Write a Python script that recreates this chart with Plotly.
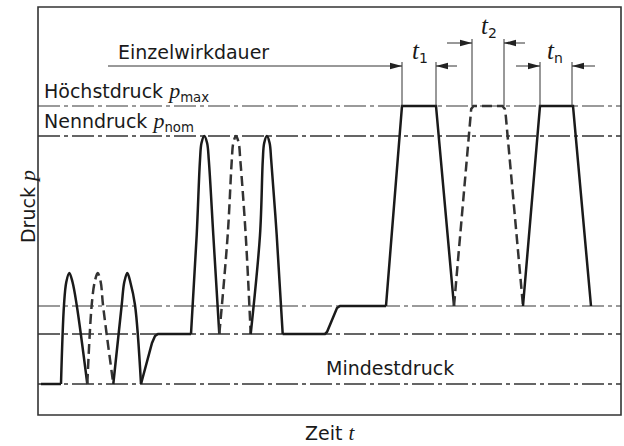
import plotly.graph_objects as go

# ---------------- data (time t, pressure p in arbitrary diagram units) ----------------
T_MAX = 583
P_MAX_AX = 408

# pressure levels
p_min = 31     # Mindestdruck
p_low = 81
p_mid = 109
p_nom = 279    # Nenndruck
p_max = 309    # Höchstdruck
level_values = [p_max, p_nom, p_mid, p_low, p_min]
level_colors = ["#7a7a7a", "#333333", "#7a7a7a", "#333333", "#333333"]

# solid curve pieces
start_t = [3, 23]
start_p = [31, 31]

small_p = [31, 110, 133, 142, 133, 110, 31]
small1_t = [23, 26, 28.3, 31.3, 34.5, 38.7, 49.3]
small2_t = [49.3, 53.7, 56.7, 59.7, 62.7, 65, 75.3]      # dashed
small3_t = [75.3, 83.7, 86.3, 89.3, 92.3, 97, 103]

step1_t = [103, 114, 117, 120, 153]
step1_p = [31, 72, 79, 81, 81]

large_p = [81, 180, 255, 272, 279, 272, 255, 180, 81]
large1_t = [153, 158.7, 162, 163.5, 166.3, 169.1, 170.8, 175.3, 181.3]
large2_t = [181.3, 189.7, 193.8, 195.3, 198, 200.7, 202.3, 207.7, 212.7]   # dashed
large3_t = [212.7, 222, 224.8, 226.2, 228.9, 231.6, 233.2, 238.7, 244.7]

step2_t = [244.7, 287, 289, 292, 297, 299, 302, 348]
step2_p = [81, 81, 83, 90, 103, 107, 109, 109]

trap_p = [109, 309, 309, 109]
trap1_t = [348, 364, 398, 416]
trap3_t = [485, 502, 535, 553]
# dashed trapezoid with slightly rounded top corners
trap2_t = [416, 432.2, 433.2, 435.5, 464.5, 466.8, 467.8, 485]
trap2_p = [109, 299, 306, 309, 309, 306, 299, 109]

# dimension lines
ext_t = [364, 398, 434, 466, 502, 534]
ext_top = [353, 353, 376, 376, 353, 353]
arrow_tail = [70, 419, 409, 487, 478, 557]
arrow_tip = [364, 398, 434, 466, 502, 534]
arrow_p = [349, 349, 372, 372, 349, 349]

SANS = "DejaVu Sans"
SERIF = "Liberation Serif"
TXT = "#1a1a1a"
FS = 19

fig = go.Figure()

# dash-dot reference lines
for lv, col in zip(level_values, level_colors):
    fig.add_trace(go.Scatter(x=[0, T_MAX], y=[lv, lv], mode="lines",
                             line=dict(color=col, width=1.3, dash="22px,4px,4px,4px"),
                             hoverinfo="skip", showlegend=False))

def curve(t, p, dashed=False, spline=False, smoothing=1.0):
    fig.add_trace(go.Scatter(
        x=t, y=p, mode="lines",
        line=dict(color="#333333" if dashed else "#1a1a1a", width=2.5,
                  dash="10px,5px" if dashed else "solid",
                  shape="spline" if spline else "linear", smoothing=smoothing),
        hoverinfo="skip", showlegend=False))

curve(start_t, start_p)
curve(small1_t, small_p, spline=True)
curve(small2_t, small_p, dashed=True, spline=True)
curve(small3_t, small_p, spline=True)
curve(step1_t, step1_p)
curve(large1_t, large_p, spline=True)
curve(large2_t, large_p, dashed=True, spline=True)
curve(large3_t, large_p, spline=True)
curve(step2_t, step2_p)
curve(trap1_t, trap_p)
curve(trap2_t, trap2_p, dashed=True)
curve(trap3_t, trap_p)

# extension lines
for t, top in zip(ext_t, ext_top):
    fig.add_trace(go.Scatter(x=[t, t], y=[p_max, top], mode="lines",
                             line=dict(color="#333333", width=1),
                             hoverinfo="skip", showlegend=False))

# arrows (line + filled head)
shapes = []
for tail, tip, pp in zip(arrow_tail, arrow_tip, arrow_p):
    fig.add_trace(go.Scatter(x=[tail, tip], y=[pp, pp], mode="lines",
                             line=dict(color="#333333", width=1),
                             hoverinfo="skip", showlegend=False))
    d = 1 if tip > tail else -1
    L, H = 12, 3.3
    path = f"M {tip},{pp} L {tip - d*L},{pp + H} L {tip - d*L},{pp - H} Z"
    shapes.append(dict(type="path", path=path, xref="x", yref="y",
                       fillcolor="#222222", line=dict(width=0)))

# frame
shapes.append(dict(type="rect", xref="paper", yref="paper", x0=0, x1=1, y0=0, y1=1,
                   line=dict(color="#333333", width=1.6)))

def sym(s, size):
    return (f"<span style='font-family:{SERIF};font-style:italic;"
            f"font-size:{size}px'>{s}</span>")

annotations = [
    dict(x=79, y=363, text="Einzelwirkdauer", xanchor="left", yanchor="middle",
         font=dict(size=FS)),
    dict(x=5, y=324, text="Höchstdruck " + sym("p", 22) + "<sub>max</sub>",
         xanchor="left", yanchor="middle", font=dict(size=FS)),
    dict(x=5, y=294, text="Nenndruck " + sym("p", 22) + "<sub>nom</sub>",
         xanchor="left", yanchor="middle", font=dict(size=FS)),
    dict(x=287, y=47, text="Mindestdruck", xanchor="left", yanchor="middle",
         font=dict(size=FS)),
    dict(x=382, y=364, text=sym("t", 25) + "<sub>1</sub>", xanchor="center",
         yanchor="middle", font=dict(size=20)),
    dict(x=451, y=389, text=sym("t", 25) + "<sub>2</sub>", xanchor="center",
         yanchor="middle", font=dict(size=20)),
    dict(x=517, y=364, text=sym("t", 25) + "<sub>n</sub>", xanchor="center",
         yanchor="middle", font=dict(size=20)),
    dict(x=0.5, y=-0.043, xref="paper", yref="paper",
         text="Zeit " + sym("t", 21), xanchor="center", yanchor="middle",
         font=dict(size=FS)),
    dict(x=-0.019, y=0.512, xref="paper", yref="paper", textangle=-90,
         text="Druck " + sym("p", 22), xanchor="center", yanchor="middle",
         font=dict(size=FS)),
]
for a in annotations:
    a.setdefault("xref", "x")
    a.setdefault("yref", "y")
    a["showarrow"] = False
    a["borderpad"] = 0
    a["font"].update(family=SANS, color=TXT)

fig.update_layout(
    width=624, height=446,
    margin=dict(l=38, r=3, t=7, b=31),
    paper_bgcolor="white", plot_bgcolor="white",
    xaxis=dict(range=[0, T_MAX], visible=False, fixedrange=True),
    yaxis=dict(range=[0, P_MAX_AX], visible=False, fixedrange=True),
    shapes=shapes, annotations=annotations, showlegend=False,
)

fig.write_html("out.html", config={"displayModeBar": False},
               post_script="document.body.style.margin='0px';")
